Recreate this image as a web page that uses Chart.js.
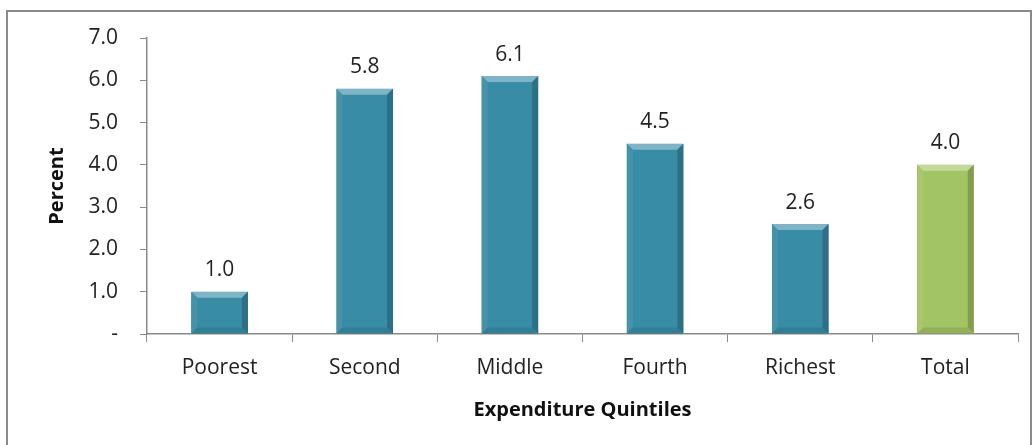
<!DOCTYPE html>
<html>
<head>
<meta charset="utf-8">
<script src="https://cdn.jsdelivr.net/npm/chart.js@4/dist/chart.umd.min.js"></script>
<style>
  html, body { margin: 0; padding: 0; background: #fff; overflow: hidden; }
  #frame { position: absolute; left: 6px; top: 10px; width: 1022px; height: 500px; border: 2px solid #8a8a8a; }
  #chart { position: absolute; left: 0; top: 0; }
</style>
</head>
<body>
<div id="frame"></div>
<canvas id="chart" width="1034" height="445"></canvas>
<script>
// chart values
const quintiles = ['Poorest', 'Second', 'Middle', 'Fourth', 'Richest', 'Total'];
const percent = [1.0, 5.8, 6.1, 4.5, 2.6, 4.0];
const barColors = ['#388ca6', '#388ca6', '#388ca6', '#388ca6', '#388ca6', '#a2c464'];
const yTicks = [0, 1, 2, 3, 4, 5, 6, 7];

const FONT = '"Open Sans", Lato, sans-serif';

// lighten / darken a hex colour
function shade(hex, amt) {
    let n = parseInt(hex.slice(1), 16);
    let r = (n >> 16) & 255, g = (n >> 8) & 255, b = n & 255;
    const f = c => Math.max(0, Math.min(255, Math.round(amt > 0 ? c + (255 - c) * amt : c * (1 + amt))));
    return 'rgb(' + f(r) + ',' + f(g) + ',' + f(b) + ')';
}

// bevel look + value labels on top of each bar
const bevelPlugin = {
    id: 'bevel',
    afterDatasetsDraw(chart) {
        const ctx = chart.ctx;
        const meta = chart.getDatasetMeta(0);
        meta.data.forEach((bar, i) => {
            const p = bar.getProps(['x', 'y', 'base', 'width'], true);
            const l = p.x - p.width / 2, r = p.x + p.width / 2;
            const t = p.y, b = p.base;
            const d = 6;
            const c = barColors[i];
            ctx.save();
            // top
            ctx.fillStyle = shade(c, 0.35);
            ctx.beginPath();
            ctx.moveTo(l, t); ctx.lineTo(r, t); ctx.lineTo(r - d, t + d); ctx.lineTo(l + d, t + d);
            ctx.closePath(); ctx.fill();
            // left
            ctx.fillStyle = shade(c, 0.06);
            ctx.beginPath();
            ctx.moveTo(l, t); ctx.lineTo(l + d, t + d); ctx.lineTo(l + d, b - d); ctx.lineTo(l, b);
            ctx.closePath(); ctx.fill();
            // right
            ctx.fillStyle = shade(c, -0.2);
            ctx.beginPath();
            ctx.moveTo(r, t); ctx.lineTo(r - d, t + d); ctx.lineTo(r - d, b - d); ctx.lineTo(r, b);
            ctx.closePath(); ctx.fill();
            // bottom
            ctx.fillStyle = shade(c, -0.1);
            ctx.beginPath();
            ctx.moveTo(l, b); ctx.lineTo(l + d, b - d); ctx.lineTo(r - d, b - d); ctx.lineTo(r, b);
            ctx.closePath(); ctx.fill();
            // value label
            ctx.fillStyle = '#222';
            ctx.font = '21px ' + FONT;
            ctx.textAlign = 'center';
            ctx.textBaseline = 'bottom';
            ctx.fillText(percent[i].toFixed(1), p.x, t - 11);
            ctx.restore();
        });
    }
};

new Chart(document.getElementById('chart').getContext('2d'), {
    type: 'bar',
    data: {
        labels: quintiles,
        datasets: [{
            data: percent,
            backgroundColor: barColors,
            borderColor: barColors.map(c => shade(c, -0.35)),
            borderWidth: 1,
            borderSkipped: false,
            barPercentage: 0.78,
            categoryPercentage: 0.5
        }]
    },
    options: {
        responsive: false,
        animation: false,
        devicePixelRatio: 1,
        layout: { padding: { top: 38, right: 16, bottom: 0, left: 0 } },
        plugins: { legend: { display: false }, tooltip: { enabled: false } },
        scales: {
            x: {
                grid: { drawOnChartArea: false, offset: true, tickLength: 8, color: '#8a8a8a' },
                border: { color: '#8a8a8a', width: 1.5 },
                ticks: { color: '#222', padding: 13, font: { size: 21, family: FONT } },
                title: {
                    display: true, text: 'Expenditure Quintiles', color: '#111',
                    font: { size: 20, weight: 'bold', family: FONT },
                    padding: { top: 0, bottom: 23 }
                },
                afterFit(axis) { axis.height = 445 - 334; }
            },
            y: {
                min: 0, max: 7,
                afterBuildTicks(axis) { axis.ticks = yTicks.map(v => ({ value: v })); },
                grid: { drawOnChartArea: false, tickLength: 7, color: '#8a8a8a' },
                border: { color: '#8a8a8a', width: 1.5 },
                ticks: {
                    color: '#222', padding: 22, font: { size: 21, family: FONT },
                    callback: v => v === 0 ? '-' : v.toFixed(1)
                },
                title: {
                    display: true, text: 'Percent', color: '#111',
                    font: { size: 20, weight: 'bold', family: FONT },
                    padding: { top: 45, bottom: 0 }
                },
                afterFit(axis) { axis.width = 147; }
            }
        }
    },
    plugins: [bevelPlugin]
});
</script>
</body>
</html>
